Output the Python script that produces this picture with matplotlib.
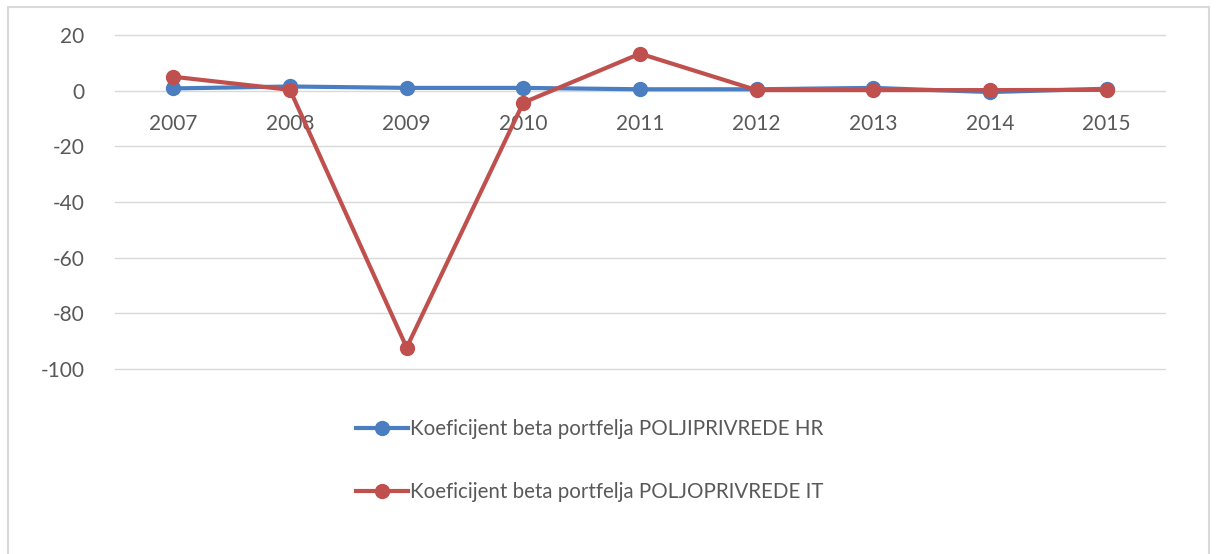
import matplotlib.pyplot as plt
from matplotlib.patches import Rectangle

years = ["2007", "2008", "2009", "2010", "2011", "2012", "2013", "2014", "2015"]
beta_hr = [0.8, 1.5, 1.0, 1.0, 0.5, 0.5, 1.0, -0.5, 0.7]
beta_it = [5.0, 0.3, -92.3, -4.3, 13.3, 0.2, 0.2, 0.2, 0.3]
label_hr = "Koeficijent beta portfelja POLJIPRIVREDE HR"
label_it = "Koeficijent beta portfelja POLJOPRIVREDE IT"

plt.rcParams['font.family'] = ['Lato', 'DejaVu Sans']
plt.rcParams['axes.unicode_minus'] = False
grey_txt = "#595959"

fig = plt.figure(figsize=(12.17, 5.54), dpi=100)
ax = fig.add_axes([115 / 1217, 1 - 369 / 554, 1050 / 1217, 334 / 554])

x = list(range(len(years)))
ax.plot(x, beta_hr, color="#4A7EC1", lw=3, marker="o", ms=10, label=label_hr, zorder=3)
ax.plot(x, beta_it, color="#C0504D", lw=3, marker="o", ms=10, label=label_it, zorder=4)

ax.set_xlim(-0.5, len(years) - 0.5)
ax.set_ylim(-100, 20)
ax.set_yticks(range(-100, 21, 20))
ax.yaxis.grid(True, color="#D9D9D9", lw=1)
for gl in ax.get_ygridlines():
    gl.set_clip_on(False)
ax.set_axisbelow(True)
ax.set_xticks([])
ax.tick_params(axis="y", length=0, pad=22, labelsize=15, labelcolor=grey_txt)
for s in ax.spines.values():
    s.set_visible(False)

for i, yr in enumerate(years):
    ax.annotate(yr, (i, 0), xytext=(0, -24), textcoords="offset points",
                ha="center", va="center", fontsize=15, color=grey_txt)

leg = ax.legend(loc="upper left", bbox_to_anchor=(233 / 1050, -0.125), frameon=False,
                fontsize=14.8, handlelength=2.5, handletextpad=0.1, labelspacing=2.1,
                borderaxespad=0)
for t in leg.get_texts():
    t.set_color(grey_txt)

fig.patches.append(Rectangle((8 / 1217, -0.05), 1201 / 1217, 1.05 - 7 / 554,
                             transform=fig.transFigure, fill=False,
                             edgecolor="#D9D9D9", lw=1.5))

fig.savefig("out.png", dpi=100)
